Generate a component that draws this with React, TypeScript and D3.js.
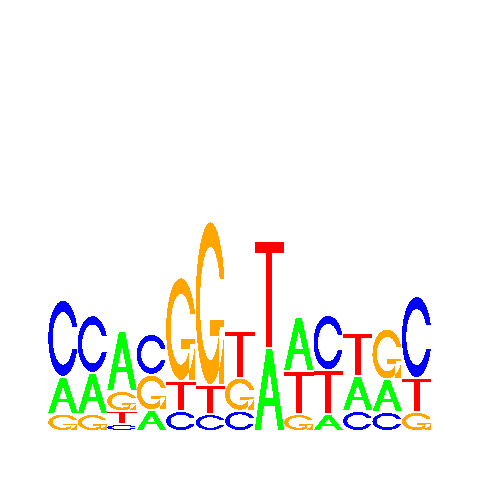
import React from "react";
import * as d3 from "d3";

// Sequence logo: letter heights (bits) per position
const positions = [1, 2, 3, 4, 5, 6, 7, 8, 9, 10, 11, 12, 13];
const bases = ["A", "C", "G", "T"];
const heightA = [0.183, 0.206, 0.305, 0.099, 0, 0, 0, 0.423, 0.275, 0.078, 0.175, 0.16, 0];
const heightC = [0.392, 0.29, 0.026, 0.204, 0.094, 0.078, 0.096, 0, 0, 0.279, 0.094, 0.089, 0.418];
const heightG = [0.08, 0.078, 0.096, 0.174, 0.53, 0.845, 0.162, 0, 0.078, 0, 0, 0.255, 0.089];
const heightT = [0, 0, 0.057, 0, 0.148, 0.141, 0.235, 0.548, 0.214, 0.219, 0.213, 0, 0.167];
const baseColors: Record<string, string> = { A: "#00FF00", C: "#0000FF", G: "#FFA500", T: "#FF0000" };

type Pt = [number, number];

function seq(a: number, b: number, n: number) {
  const out: number[] = [];
  for (let i = 0; i < n; i++) out.push(a + ((b - a) * i) / (n - 1));
  return out;
}

function ringPolygon(): Pt[] {
  const a1 = seq(0.3 + Math.PI / 2, Math.PI, 100);
  const a2 = seq(Math.PI, 1.5 * Math.PI, 100);
  const xl1 = a1.map((a) => 0.5 + 0.5 * Math.sin(a));
  const yl1 = a1.map((a) => 0.5 + 0.5 * Math.cos(a));
  const xl2 = a2.map((a) => 0.5 + 0.5 * Math.sin(a));
  const yl2 = a2.map((a) => 0.5 + 0.5 * Math.cos(a));
  const xl = [...xl1, ...xl2];
  const yl = [...yl1, ...yl2];
  const x = [...xl, ...[...xl].reverse()];
  const y = [...yl, ...[...yl].reverse().map((v) => 1 - v)];
  const maxY = Math.max(...yl1);
  let xi1 = a1.map((a) => 0.5 + 0.35 * Math.sin(a));
  let yi1 = a1.map((a) => 0.5 + 0.35 * Math.cos(a));
  const keep = yi1.map((v) => v <= maxY);
  xi1 = xi1.filter((_, i) => keep[i]);
  yi1 = yi1.filter((_, i) => keep[i]);
  yi1[0] = maxY;
  const xi2 = a2.map((a) => 0.5 + 0.35 * Math.sin(a));
  const yi2 = a2.map((a) => 0.5 + 0.35 * Math.cos(a));
  const xi = [...xi1, ...xi2];
  const yi = [...yi1, ...yi2];
  const x1 = [...xi, ...[...xi].reverse()];
  const y1 = [...yi, ...[...yi].reverse().map((v) => 1 - v)];
  const xs = [...x, ...[...x1].reverse()];
  const ys = [...y, ...[...y1].reverse()];
  return xs.map((v, i) => [v, ys[i]] as Pt);
}

const ring = ringPolygon();
const r1 = 0.5 + 0.5 * Math.cos(0.3);
const glyphs: Record<string, Pt[][]> = {
  A: [
    [[0, 0], [0.4, 1], [0.6, 1], [1, 0], [0.8, 0], [0.68, 0.3], [0.32, 0.3], [0.2, 0], [0, 0]],
    [[0.36, 0.4], [0.5, 0.75], [0.64, 0.4], [0.36, 0.4]],
  ],
  C: [ring],
  G: [ring, [[r1, 0.4], [0.5, 0.4], [0.5, 0.3], [r1 - 0.2, 0.3], [r1 - 0.2, 0], [r1, 0], [r1, 0.4]]],
  T: [[[0, 1], [1, 1], [1, 0.9], [0.6, 0.9], [0.6, 0], [0.4, 0], [0.4, 0.9], [0, 0.9]]],
};

const heights: Record<string, number[]> = { A: heightA, C: heightC, G: heightG, T: heightT };

export default function App() {
  const W = 480, H = 480;
  const x = d3.scaleLinear().domain([0, positions.length]).range([48.3, 48.3 + 29.47 * positions.length]);
  const y = d3.scaleLinear().domain([0, 2]).range([430, 430 - 2 * 191.5]);
  const line = d3.line<Pt>().x((d) => d[0]).y((d) => d[1]);

  const marks: { key: string; d: string; fill: string }[] = [];
  positions.forEach((p, j) => {
    const hts = bases.map((b) => ({ b, h: heights[b][j] }));
    const order = [...hts].sort((a, b) => a.h - b.h);
    let yPos = 0;
    order.forEach(({ b, h }) => {
      if (h > 0) {
        const d = glyphs[b]
          .map((poly) => line(poly.map(([u, v]) => [x(j + u), y(yPos + h * v)] as Pt)) + "Z")
          .join("");
        marks.push({ key: `${p}-${b}`, d, fill: baseColors[b] });
        yPos += h + 0.01;
      }
    });
  });

  return (
    <svg width={W} height={H} style={{ position: "absolute", left: 0, top: 0, display: "block", background: "#fff" }}>
      <rect width={W} height={H} fill="#fff" />
      {marks.map((m) => (
        <path key={m.key} d={m.d} fill={m.fill} fillRule="evenodd" shapeRendering="crispEdges" />
      ))}
    </svg>
  );
}
